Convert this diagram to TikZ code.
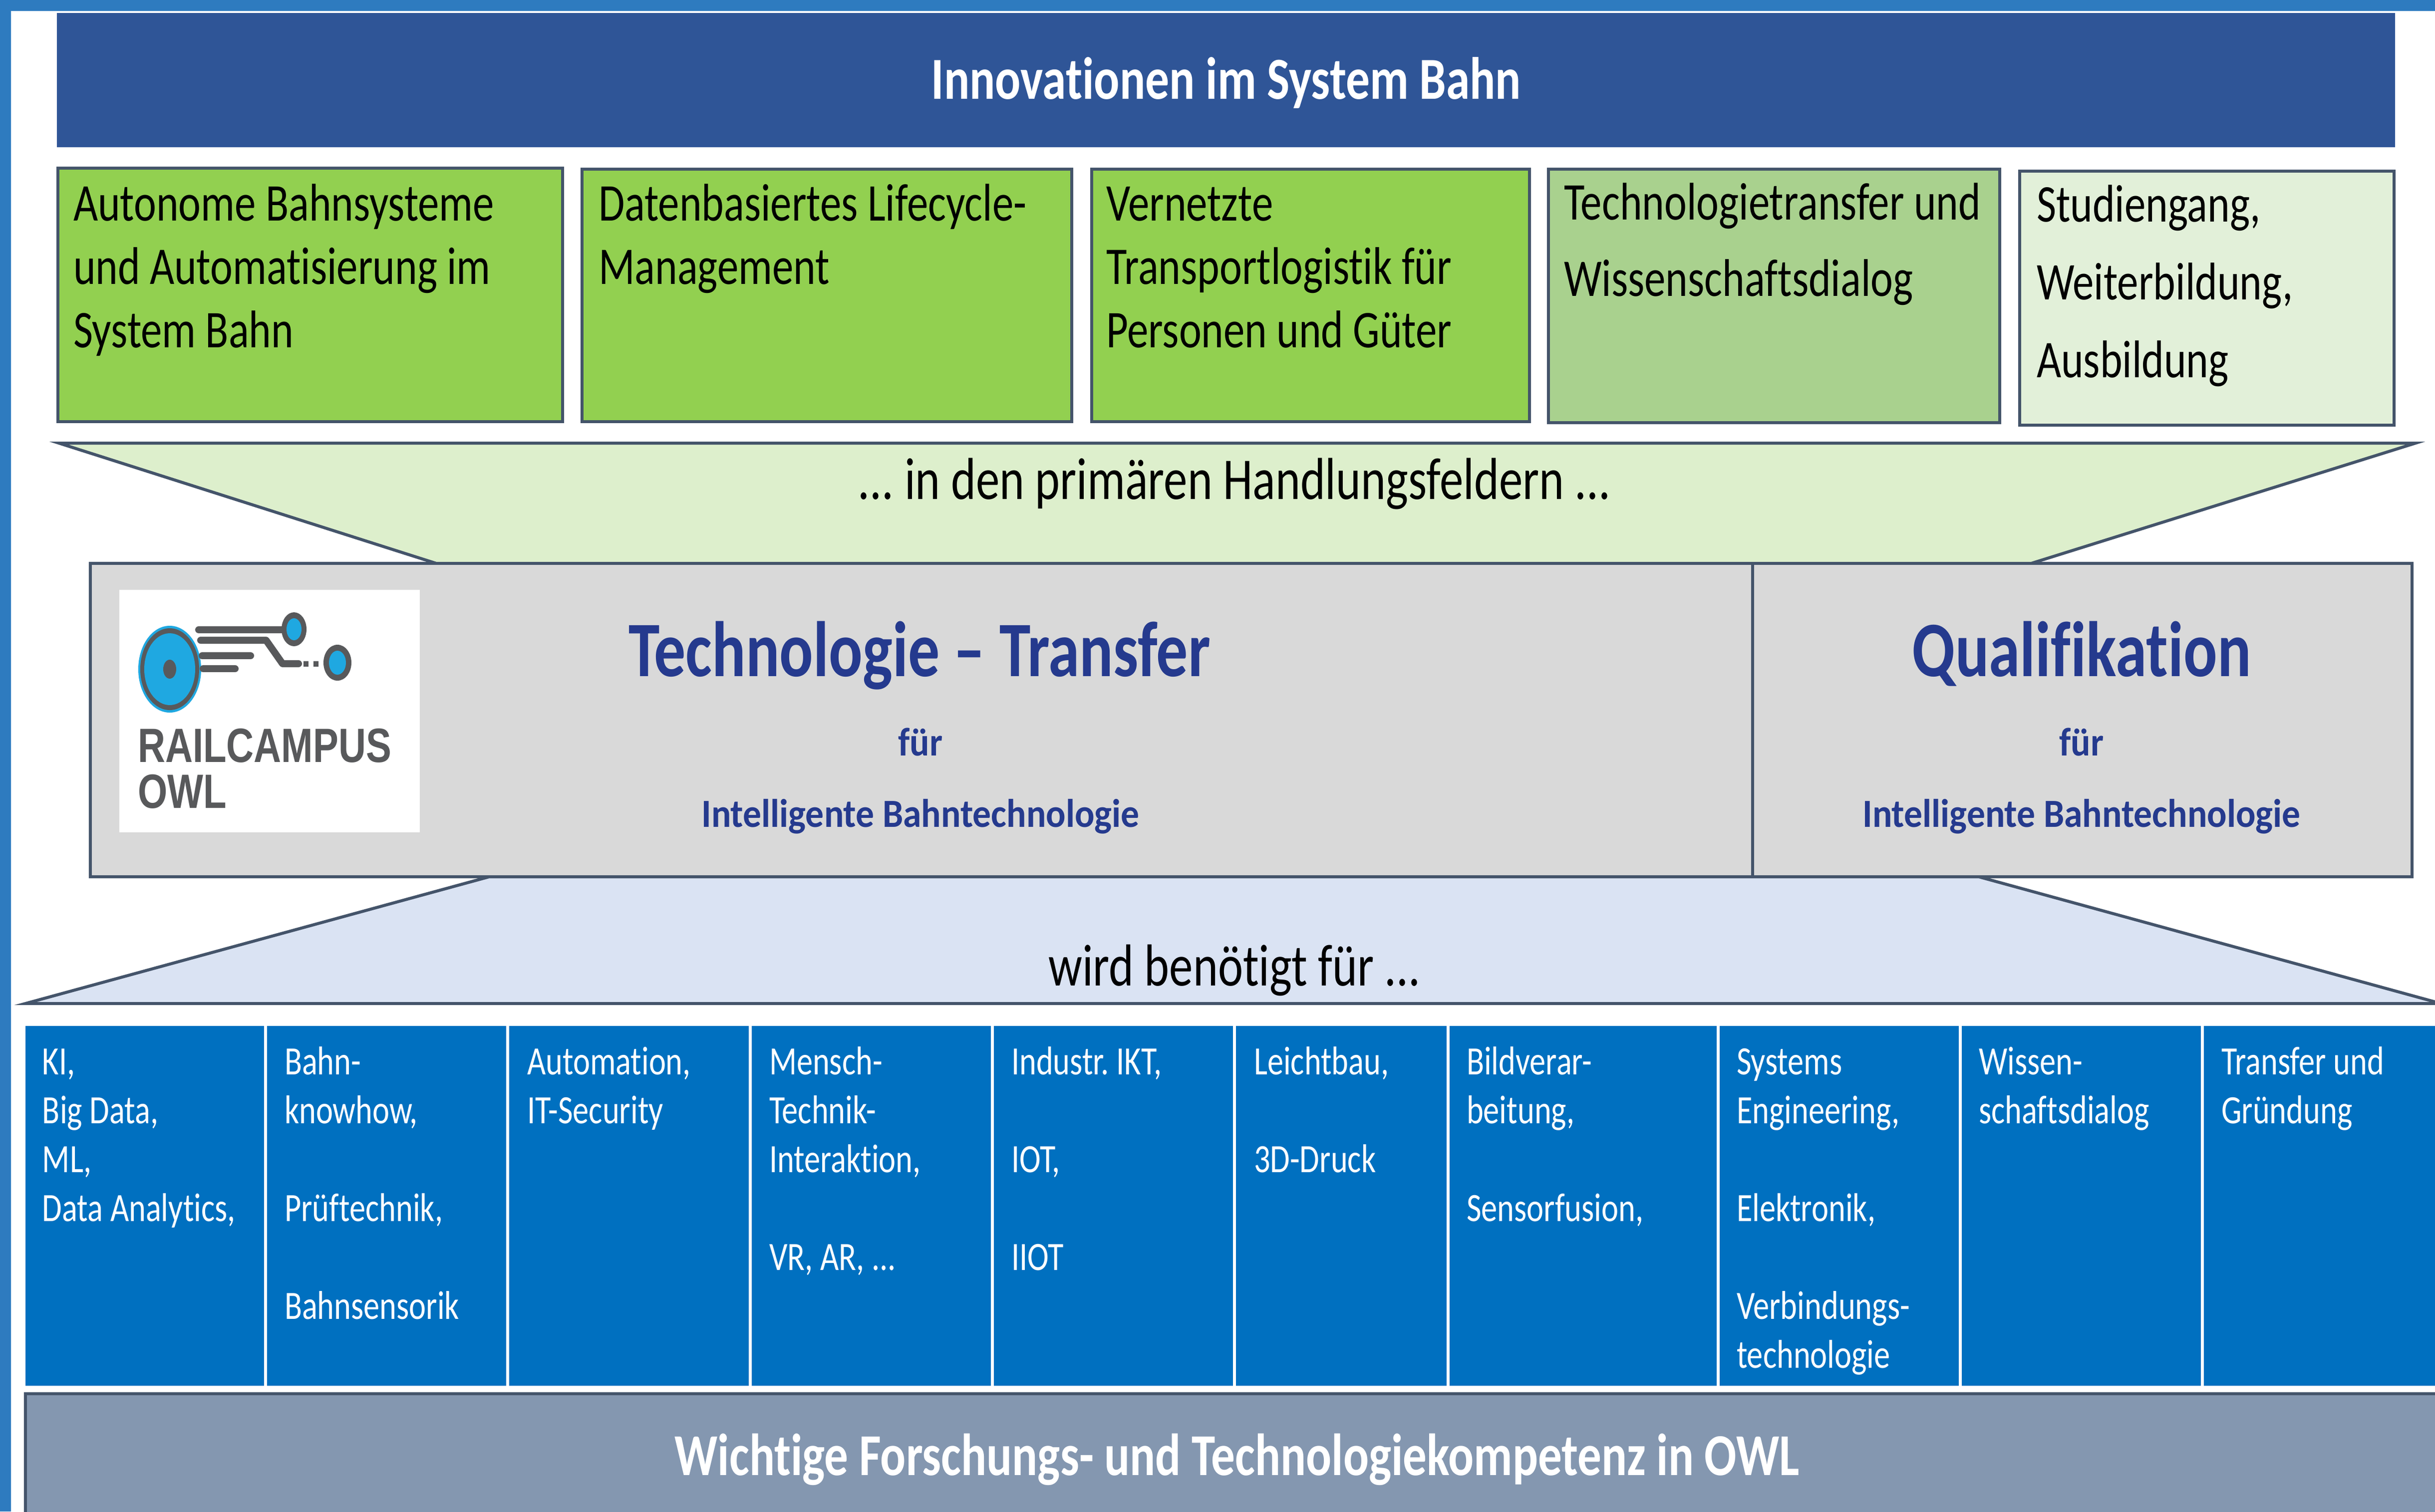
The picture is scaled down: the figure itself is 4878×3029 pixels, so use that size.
\documentclass[tikz,border=0pt]{standalone}
\usepackage{fontspec}
\setmainfont{Carlito}[FakeStretch=0.8, Ligatures={TeX,NoCommon}]
\newfontfamily\plainfont{Carlito}[FakeStretch=0.92, Ligatures={TeX,NoCommon}]
\newfontfamily\logofont{Liberation Sans}[FakeStretch=0.79]
\frenchspacing
\definecolor{frameblue}{HTML}{2E7BBF}
\definecolor{headblue}{HTML}{2F5597}
\definecolor{greenA}{HTML}{92D050}
\definecolor{greenB}{HTML}{A9D18E}
\definecolor{greenC}{HTML}{E2F0D9}
\definecolor{trapgreen}{HTML}{DDEFCC}
\definecolor{edgecol}{HTML}{44546A}
\definecolor{boxgray}{HTML}{D9D9D9}
\definecolor{titleblue}{HTML}{253A8E}
\definecolor{trapblue}{HTML}{DAE3F3}
\definecolor{colblue}{HTML}{0070C0}
\definecolor{bargray}{HTML}{8497B0}
\definecolor{logogray}{HTML}{58595B}
\definecolor{logoblue}{HTML}{1FA8E1}
\newcommand\boxlines[5]{% name, x, y0, dy, list
  \foreach \t [count=\k from 0] in {#5} {
    \node[boxtxt] (#1-\k) at ({#2},{#3+#4*\k}) {\t};
  }}
\newcommand\coltext[3]{% name, x, list k/text
  \foreach \k/\t in {#3} {
    \node[coltxt] (#1-\k) at ({#2},{2153+98*\k}) {\t};
  }}
\begin{document}
\begin{tikzpicture}[x=0.2pt,y=-0.2pt,
  edge/.style={draw=edgecol, line width=1.2pt},
  boxtxt/.style={anchor=base west, inner sep=0pt, font=\fontsize{21.25}{25.6}\selectfont},
  coltxt/.style={anchor=base west, inner sep=0pt, text=white, font=\fontsize{16.1}{19.6}\selectfont},
  midtxt/.style={anchor=base, inner sep=0pt, font=\fontsize{23.75}{28}\selectfont},
  bigtitle/.style={anchor=base, inner sep=0pt, text=titleblue, font=\bfseries\fontsize{31.5}{36}\selectfont},
  subtitle/.style={anchor=base, inner sep=0pt, text=titleblue, font=\plainfont\bfseries\fontsize{16}{18}\selectfont},
  logotxt/.style={anchor=base west, inner sep=0pt, text=logogray, font=\logofont\bfseries\fontsize{19.3}{22}\selectfont},
  logobar/.style={draw=logogray, line width=2.8pt, line cap=round, line join=round}]
\useasboundingbox (0,0) rectangle (4878,3029);
\clip (0,0) rectangle (4878,3029);
\fill[white] (0,0) rectangle (4878,3029);
% frame
\fill[frameblue] (0,0) rectangle (22,3029);
\fill[frameblue] (0,0) rectangle (4878,22);
% header
\fill[headblue] (114,26) rectangle (4798,295);
\node[anchor=base, inner sep=0pt, text=white, font=\bfseries\fontsize{23.9}{28}\selectfont] (head) at (2456,198) {Innovationen im System Bahn};
% fields
\path[edge, fill=greenA] (116,337) rectangle (1127,845);
\path[edge, fill=greenA] (1166,339) rectangle (2147,845);
\path[edge, fill=greenA] (2187,339) rectangle (3064,845);
\path[edge, fill=greenB] (3102,339) rectangle (4006,847);
\path[edge, fill=greenC] (4046,343) rectangle (4796,852);
\boxlines{fa}{146}{442}{127}{{Autonome Bahnsysteme},{und Automatisierung im},{System Bahn}}
\boxlines{fb}{1198}{442}{127}{{Datenbasiertes Lifecycle-},{Management}}
\boxlines{fc}{2215}{442}{127}{{Vernetzte},{Transportlogistik für},{Personen und Güter}}
\boxlines{fd}{3132}{440}{153}{{Technologietransfer und},{Wissenschaftsdialog}}
\boxlines{fe}{4079}{444}{156}{{Studiengang,},{Weiterbildung,},{Ausbildung}}
% green funnel
\path[edge, fill=trapgreen] (118,888) -- (4839,888) -- (4069,1129) -- (874,1129) -- cycle;
\node[midtxt] (prim) at (2473,1000) {... in den primären Handlungsfeldern ...};
% blue funnel
\path[edge, fill=trapblue] (980,1757) -- (3964,1757) -- (4890,2011) -- (51,2011) -- cycle;
\node[midtxt] (need) at (2473,1975) {wird benötigt für ...};
% central gray box
\path[edge, fill=boxgray] (181,1129) rectangle (4832,1757);
\draw[edge] (3511,1129) -- (3511,1757);
\fill[white] (239,1182) rectangle (841,1668);
% logo
\fill[logoblue] (340,1341) ellipse [x radius=63, y radius=87];
\fill[logogray] (340,1341) ellipse [x radius=59, y radius=82];
\fill[logoblue] (340,1341) ellipse [x radius=51, y radius=72];
\fill[logogray] (340,1341) ellipse [x radius=13, y radius=19];
\draw[logobar] (398,1262) -- (580,1262);
\draw[logobar] (402,1283) -- (533,1283) -- (566,1330) -- (598,1330);
\draw[logobar] (405,1314) -- (502,1314);
\draw[logobar] (407,1340) -- (471,1340);
\fill[logogray] (608,1325) rectangle (618,1336);
\fill[logogray] (628,1325) rectangle (638,1336);
\fill[logogray] (589,1261) ellipse [x radius=25, y radius=34];
\fill[logoblue] (589,1261) ellipse [x radius=15, y radius=22];
\fill[logogray] (676,1328) ellipse [x radius=28, y radius=36];
\fill[logoblue] (676,1328) ellipse [x radius=17, y radius=24];
\node[logotxt] (rc) at (275,1527) {RAILCAMPUS};
\node[logotxt] (owl) at (275,1619) {OWL};
% titles
\node[bigtitle] (tt) at (1842,1355) {Technologie – Transfer};
\node[subtitle] (tf) at (1844,1514) {für};
\node[subtitle] (ti) at (1844,1657) {Intelligente Bahntechnologie};
\node[bigtitle] (qt) at (4170,1355) {Qualifikation};
\node[subtitle] (qf) at (4170,1514) {für};
\node[subtitle] (qi) at (4170,1657) {Intelligente Bahntechnologie};
% competence columns
\fill[colblue] (51,2056) rectangle (4890,2777);
\foreach \sx in {532,1017,1503,1988,2473,2901,3442,3927,4412}
  \draw[white, line width=1.2pt] (\sx,2056) -- (\sx,2777);
\coltext{ca}{84}{0/{KI,},1/{Big Data,},2/{ML,},3/{Data Analytics,}}
\coltext{cb}{569}{0/{Bahn-},1/{knowhow,},3/{Prüftechnik,},5/{Bahnsensorik}}
\coltext{cc}{1055}{0/{Automation,},1/{IT-Security}}
\coltext{cd}{1540}{0/{Mensch-},1/{Technik-},2/{Interaktion,},4/{VR, AR, ...}}
\coltext{ce}{2025}{0/{Industr. IKT,},2/{IOT,},4/{IIOT}}
\coltext{cf}{2511}{0/{Leichtbau,},2/{3D-Druck}}
\coltext{cg}{2937}{0/{Bildverar-},1/{beitung,},3/{Sensorfusion,}}
\coltext{ch}{3478}{0/{Systems},1/{Engineering,},3/{Elektronik,},5/{Verbindungs-},6/{technologie}}
\coltext{ci}{3963}{0/{Wissen-},1/{schaftsdialog}}
\coltext{cj}{4449}{0/{Transfer und},1/{Gründung}}
% bottom bar
\path[edge, fill=bargray] (51,2793) rectangle (4900,3050);
\node[anchor=base, inner sep=0pt, text=white, font=\bfseries\fontsize{23.8}{28}\selectfont] (foot) at (2478,2956) {Wichtige Forschungs- und Technologiekompetenz in OWL};
\end{tikzpicture}
\end{document}
